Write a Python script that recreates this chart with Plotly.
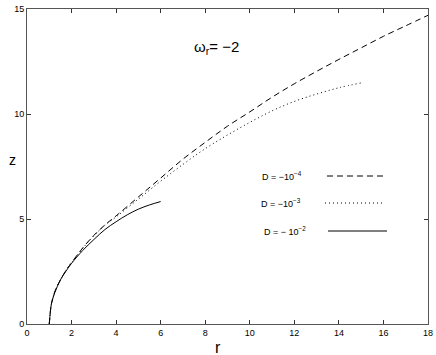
import plotly.graph_objects as go

# curve data (r, z)
r_d4 = [1, 1.05, 1.1, 1.25, 1.5, 1.75, 2, 2.5, 3, 3.5, 4, 5, 6, 7, 8, 9, 10, 11, 12, 13, 14, 15, 16, 17, 18]
z_d4 = [0, 0.6, 0.98, 1.55, 2.1, 2.55, 2.92, 3.62, 4.22, 4.72, 5.15, 6.05, 6.95, 7.85, 8.65, 9.42, 10.1, 10.8, 11.44, 12.03, 12.6, 13.15, 13.7, 14.2, 14.7]

r_d3 = [1, 1.05, 1.1, 1.25, 1.5, 1.75, 2, 2.5, 3, 3.5, 4, 5, 6, 7, 8, 9, 10, 11, 12, 13, 14, 15]
z_d3 = [0, 0.6, 0.98, 1.55, 2.1, 2.55, 2.92, 3.6, 4.2, 4.7, 5.1, 5.95, 6.8, 7.6, 8.35, 9.0, 9.6, 10.15, 10.6, 10.95, 11.25, 11.48]

r_d2 = [1, 1.05, 1.1, 1.25, 1.5, 1.75, 2, 2.5, 3, 3.5, 4, 4.5, 5, 5.5, 6]
z_d2 = [0, 0.6, 0.98, 1.5, 2.1, 2.52, 2.89, 3.5, 4.02, 4.5, 4.87, 5.2, 5.47, 5.67, 5.83]

x_ticks = [0, 2, 4, 6, 8, 10, 12, 14, 16, 18]
y_ticks = [0, 5, 10, 15]

labels = ["D = \u221210<sup>\u22124</sup>", "D = \u221210<sup>\u22123</sup>", "D = \u2212 10<sup>\u22122</sup>"]
dashes = ["6px,4px", "1px,3px", "solid"]

W, H = 436, 355
ml, mr, mt, mb = 27, 8, 9, 31
pw, ph = W - ml - mr, H - mt - mb


def px_x(p):
    return (p - ml) / pw


def px_y(p):
    return 1 - (p - mt) / ph


fig = go.Figure()
for r, z, d, name in [(r_d4, z_d4, dashes[0], labels[0]),
                      (r_d3, z_d3, dashes[1], labels[1]),
                      (r_d2, z_d2, dashes[2], labels[2])]:
    fig.add_trace(go.Scatter(x=r, y=z, mode="lines", name=name,
                             line=dict(color="black", width=1, dash=d, shape="spline")))

# hand-made legend: text on the left, line sample on the right
leg_y = [176, 203, 231]
leg_tx = [260, 259, 262]
leg_line = [(327, 387), (325, 382), (328, 387)]
shapes = []
annotations = []
for i in range(3):
    annotations.append(dict(x=px_x(leg_tx[i]), y=px_y(leg_y[i]), xref="paper", yref="paper",
                            text=labels[i], showarrow=False, xanchor="left", yanchor="middle",
                            font=dict(size=9, color="black")))
    shapes.append(dict(type="line", xref="paper", yref="paper",
                       x0=px_x(leg_line[i][0]), x1=px_x(leg_line[i][1]),
                       y0=px_y(leg_y[i]), y1=px_y(leg_y[i]),
                       line=dict(color="black", width=1, dash=dashes[i])))

annotations.append(dict(x=px_x(216), y=px_y(36), xref="paper", yref="paper",
                        text="\u03c9<sub>r</sub>= \u22122", showarrow=False,
                        font=dict(size=15, color="black")))
annotations.append(dict(x=px_x(7), y=px_y(160), xref="paper", yref="paper",
                        text="z", showarrow=False, font=dict(size=14, color="black")))
annotations.append(dict(x=px_x(218), y=px_y(337), xref="paper", yref="paper",
                        text="r", showarrow=False, yanchor="top",
                        font=dict(size=16, color="black")))

axis_common = dict(showgrid=False, zeroline=False, ticks="inside", ticklen=4,
                   tickcolor="#333", showline=True, linecolor="#555", linewidth=1,
                   mirror="ticks", tickfont=dict(size=9, color="black"),
                   automargin=False)

fig.update_layout(
    width=W, height=H,
    margin=dict(l=ml, r=mr, t=mt, b=mb),
    plot_bgcolor="white", paper_bgcolor="white",
    font=dict(family="Liberation Sans, Arial, sans-serif"),
    showlegend=False,
    xaxis=dict(range=[0, 18], tickvals=x_ticks, **axis_common),
    yaxis=dict(range=[0, 15], tickvals=y_ticks, **axis_common),
    shapes=shapes,
    annotations=annotations,
)

# drop the page's default body margin so the figure sits at the window's corner
fig.write_html("out.html", config={"displayModeBar": False},
               post_script="document.body.style.margin='0';")
